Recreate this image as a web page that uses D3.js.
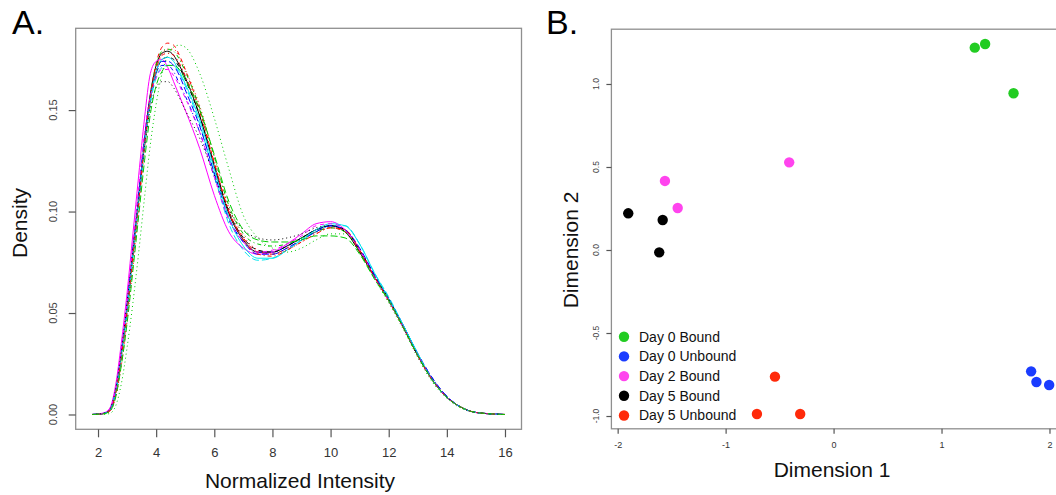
<!DOCTYPE html>
<html>
<head>
<meta charset="utf-8">
<script src="https://cdn.jsdelivr.net/npm/d3@7"></script>
<style>
  html, body { margin: 0; padding: 0; background: #fff; }
  svg { display: block; font-family: "Liberation Sans", Arial, sans-serif; }
</style>
</head>
<body>
<svg id="chart" width="1056" height="495"></svg>
<script>
// ---------------- Panel A data: density curves ----------------
const intensityGrid = [1.8, 2.2, 2.4, 2.6, 2.8, 3.0, 3.2, 3.4, 3.6, 3.8, 4.0, 4.2, 4.4, 4.6, 4.8, 5.0,
  5.5, 6.0, 6.5, 7.0, 7.5, 8.0, 8.5, 9.0, 9.5, 10.0, 10.5, 11.0, 11.5, 12.0, 12.5, 13.0, 13.5, 14.0, 14.5, 15.0, 16.0];

const density01 = [0,0.0005,0.002,0.011,0.030,0.053,0.080,0.107,0.135,0.158,0.172,0.178,0.179,0.177,0.172,0.166,0.147,0.122,0.099,0.086,0.080,0.080,0.083,0.087,0.091,0.093,0.090,0.080,0.068,0.057,0.043,0.029,0.017,0.0085,0.0035,0.001,0];
const density02 = [0,0.0004,0.0015,0.009,0.026,0.049,0.076,0.104,0.133,0.157,0.173,0.181,0.183,0.182,0.177,0.170,0.150,0.124,0.100,0.087,0.080,0.079,0.082,0.086,0.090,0.092,0.090,0.080,0.068,0.056,0.043,0.029,0.017,0.0085,0.0035,0.001,0];
const density03 = [0,0,0.0005,0.004,0.015,0.033,0.055,0.080,0.107,0.133,0.153,0.168,0.177,0.181,0.182,0.181,0.168,0.146,0.121,0.098,0.087,0.082,0.080,0.082,0.086,0.089,0.089,0.080,0.067,0.055,0.042,0.028,0.016,0.008,0.003,0.001,0];
const density04 = [0,0.0006,0.0025,0.012,0.031,0.055,0.082,0.110,0.137,0.157,0.168,0.172,0.172,0.169,0.163,0.157,0.139,0.117,0.096,0.085,0.080,0.080,0.083,0.087,0.091,0.093,0.091,0.081,0.069,0.057,0.044,0.030,0.018,0.009,0.0035,0.001,0];
const density05 = [0,0.0005,0.002,0.010,0.028,0.050,0.077,0.104,0.131,0.153,0.166,0.171,0.172,0.172,0.168,0.162,0.143,0.118,0.094,0.081,0.076,0.077,0.081,0.086,0.090,0.093,0.093,0.084,0.070,0.058,0.044,0.030,0.017,0.0085,0.0035,0.001,0];
const density06 = [0,0.0008,0.003,0.014,0.035,0.060,0.089,0.118,0.146,0.168,0.174,0.175,0.171,0.164,0.157,0.150,0.131,0.108,0.090,0.082,0.079,0.080,0.084,0.089,0.094,0.095,0.091,0.081,0.068,0.056,0.043,0.029,0.017,0.0085,0.0035,0.001,0];
const density07 = [0,0.0005,0.002,0.011,0.029,0.052,0.079,0.106,0.133,0.155,0.168,0.175,0.176,0.175,0.171,0.165,0.147,0.123,0.100,0.087,0.081,0.080,0.083,0.087,0.091,0.093,0.091,0.081,0.069,0.057,0.043,0.029,0.017,0.0085,0.0035,0.001,0];
const density08 = [0,0.0004,0.0015,0.008,0.024,0.046,0.073,0.101,0.130,0.154,0.170,0.178,0.180,0.180,0.176,0.170,0.152,0.127,0.102,0.088,0.081,0.079,0.081,0.085,0.089,0.092,0.091,0.081,0.068,0.056,0.043,0.029,0.017,0.0085,0.0035,0.001,0];
const density09 = [0,0.0005,0.002,0.010,0.028,0.051,0.078,0.106,0.134,0.157,0.172,0.179,0.180,0.179,0.175,0.169,0.151,0.127,0.103,0.089,0.084,0.083,0.084,0.087,0.090,0.092,0.090,0.080,0.068,0.056,0.043,0.029,0.017,0.0085,0.0035,0.001,0];
const density10 = [0,0.0006,0.0022,0.011,0.030,0.054,0.081,0.108,0.135,0.156,0.169,0.174,0.174,0.172,0.167,0.160,0.142,0.119,0.097,0.085,0.079,0.079,0.082,0.086,0.090,0.093,0.091,0.082,0.069,0.057,0.044,0.030,0.018,0.009,0.0035,0.001,0];
const density11 = [0,0.0005,0.002,0.011,0.029,0.052,0.079,0.106,0.133,0.155,0.169,0.175,0.176,0.174,0.169,0.163,0.145,0.121,0.097,0.083,0.077,0.077,0.081,0.086,0.091,0.094,0.093,0.084,0.070,0.057,0.044,0.030,0.017,0.0085,0.0035,0.001,0];
const density12 = [0,0.0006,0.0025,0.012,0.032,0.056,0.084,0.112,0.139,0.157,0.166,0.170,0.170,0.167,0.162,0.156,0.139,0.117,0.096,0.085,0.080,0.081,0.084,0.088,0.093,0.094,0.091,0.081,0.068,0.056,0.043,0.029,0.017,0.0085,0.0035,0.001,0];
const density13 = [0,0.0006,0.0025,0.012,0.031,0.055,0.081,0.107,0.132,0.151,0.161,0.164,0.164,0.161,0.156,0.150,0.136,0.118,0.101,0.091,0.087,0.086,0.087,0.089,0.092,0.093,0.090,0.080,0.068,0.057,0.043,0.029,0.017,0.0085,0.0035,0.001,0];
const density14 = [0,0.0005,0.002,0.010,0.028,0.051,0.078,0.105,0.133,0.156,0.170,0.177,0.178,0.177,0.173,0.167,0.149,0.124,0.100,0.086,0.079,0.078,0.081,0.085,0.089,0.092,0.091,0.081,0.068,0.056,0.043,0.029,0.017,0.0085,0.0035,0.001,0];
const density15 = [0,0.0004,0.0015,0.008,0.024,0.045,0.071,0.098,0.125,0.148,0.162,0.169,0.172,0.172,0.170,0.165,0.150,0.128,0.105,0.091,0.086,0.085,0.085,0.086,0.088,0.088,0.087,0.079,0.067,0.056,0.043,0.029,0.017,0.0085,0.0035,0.001,0];

const densitySeries = [density01, density02, density03, density04, density05, density06, density07, density08,
  density09, density10, density11, density12, density13, density14, density15];

const curveColors = ["#000000", "#ff0000", "#00cd00", "#0000ff", "#00e5ee", "#ff00ff"];
const curveDashes = [null, "4,4", "1,3", "1,3,4,3", "7,3"];

const aXTicks = [2, 4, 6, 8, 10, 12, 14, 16];
const aYTicks = [0.00, 0.05, 0.10, 0.15];
const aYTickLabels = ["0.00", "0.05", "0.10", "0.15"];

// ---------------- Panel B data: MDS plot ----------------
const groups = ["Day 0 Bound", "Day 0 Unbound", "Day 2 Bound", "Day 5 Bound", "Day 5 Unbound"];
const groupColors = ["#22cc22", "#1a3cff", "#ff44ee", "#000000", "#ff2a0a"];
const sampleGroup = [0, 0, 0, 1, 1, 1, 2, 2, 2, 3, 3, 3, 4, 4, 4];
const dim1 = [1.308, 1.404, 1.667, 1.830, 1.879, 1.997, -0.411, -1.562, -1.444, -1.902, -1.583, -1.615, -0.543, -0.710, -0.309];
const dim2 = [1.219, 1.241, 0.944, -0.731, -0.795, -0.813, 0.528, 0.416, 0.253, 0.221, 0.181, -0.014, -0.763, -0.988, -0.988];

const bXTicks = [-2, -1, 0, 1, 2];
const bYTicks = [-1.0, -0.5, 0.0, 0.5, 1.0];
const bYTickLabels = ["-1.0", "-0.5", "0.0", "0.5", "1.0"];

// ---------------- Drawing ----------------
const svg = d3.select("#chart");
const boxColor = "#8f8f8f";
const tickColor = "#555";

// ===== Panel A =====
const ax = d3.scaleLinear().domain([1.232, 16.568]).range([75.7, 521.5]);
const ay = d3.scaleLinear().domain([-0.0073, 0.1903]).range([429.3, 28.3]);

const gA = svg.append("g");

const line = d3.line()
  .x((d, i) => ax(intensityGrid[i]))
  .y(d => ay(d))
  .curve(d3.curveMonotoneX);

gA.append("g").selectAll("path")
  .data(densitySeries)
  .join("path")
  .attr("d", d => line(d))
  .attr("fill", "none")
  .attr("stroke", (d, i) => curveColors[i % curveColors.length])
  .attr("stroke-width", 1)
  .attr("stroke-dasharray", (d, i) => curveDashes[i % curveDashes.length]);

// box
gA.append("rect")
  .attr("x", ax.range()[0]).attr("y", ay.range()[1])
  .attr("width", ax.range()[1] - ax.range()[0])
  .attr("height", ay.range()[0] - ay.range()[1])
  .attr("fill", "none").attr("stroke", boxColor).attr("stroke-width", 1.3);

// x axis
const axA = gA.append("g").attr("transform", `translate(0,${ay.range()[0]})`)
  .call(d3.axisBottom(ax).tickValues(aXTicks).tickSize(8).tickPadding(10).tickFormat(d3.format("d")));
axA.select(".domain").remove();
axA.selectAll(".tick line").attr("stroke", tickColor).attr("stroke-width", 1.2);
axA.selectAll(".tick text").attr("fill", "#333").style("font-size", "13px")
  .style("font-family", "'Liberation Sans', Arial, sans-serif");

// y axis
const ayA = gA.append("g").attr("transform", `translate(${ax.range()[0]},0)`)
  .call(d3.axisLeft(ay).tickValues(aYTicks).tickSize(7).tickFormat(""));
ayA.select(".domain").remove();
ayA.selectAll(".tick line").attr("stroke", tickColor).attr("stroke-width", 1.2);
gA.append("g").selectAll("text")
  .data(aYTicks)
  .join("text")
  .attr("transform", d => `translate(57,${ay(d)}) rotate(-90)`)
  .attr("text-anchor", "middle")
  .attr("fill", "#444")
  .style("font-size", "11px")
  .text((d, i) => aYTickLabels[i]);

// axis titles
gA.append("text").attr("x", 300).attr("y", 488).attr("text-anchor", "middle")
  .style("font-size", "21px").attr("fill", "#111").text("Normalized Intensity");
gA.append("text").attr("transform", "translate(27,223) rotate(-90)").attr("text-anchor", "middle")
  .style("font-size", "21px").attr("fill", "#111").text("Density");
gA.append("text").attr("x", 12).attr("y", 34).style("font-size", "34px").attr("fill", "#000").text("A.");

// ===== Panel B =====
const bx = d3.scaleLinear().domain([-2.058, 2.153]).range([611.4, 1066]);
const by = d3.scaleLinear().domain([-1.077, 1.33]).range([428.8, 29.2]);
const gB = svg.append("g");

gB.append("rect")
  .attr("x", bx.range()[0]).attr("y", by.range()[1])
  .attr("width", bx.range()[1] - bx.range()[0])
  .attr("height", by.range()[0] - by.range()[1])
  .attr("fill", "none").attr("stroke", boxColor).attr("stroke-width", 1.3);

const bxA = gB.append("g").attr("transform", `translate(0,${by.range()[0]})`)
  .call(d3.axisBottom(bx).tickValues(bXTicks).tickSize(5).tickPadding(8).tickFormat(d3.format("d")));
bxA.select(".domain").remove();
bxA.selectAll(".tick line").attr("stroke", tickColor).attr("stroke-width", 1.2);
bxA.selectAll(".tick text").attr("fill", "#333").style("font-size", "9px")
  .style("font-family", "'Liberation Sans', Arial, sans-serif")
  .text(d => d < 0 ? "-" + Math.abs(d) : String(d));

const byA = gB.append("g").attr("transform", `translate(${bx.range()[0]},0)`)
  .call(d3.axisLeft(by).tickValues(bYTicks).tickSize(5).tickFormat(""));
byA.select(".domain").remove();
byA.selectAll(".tick line").attr("stroke", tickColor).attr("stroke-width", 1.2);
gB.append("g").selectAll("text")
  .data(bYTicks)
  .join("text")
  .attr("transform", d => `translate(599,${by(d)}) rotate(-90)`)
  .attr("text-anchor", "middle")
  .attr("fill", "#444")
  .style("font-size", "8.5px")
  .text((d, i) => bYTickLabels[i]);

gB.append("g").selectAll("circle")
  .data(dim1)
  .join("circle")
  .attr("cx", d => bx(d))
  .attr("cy", (d, i) => by(dim2[i]))
  .attr("r", 5.2)
  .attr("fill", (d, i) => groupColors[sampleGroup[i]]);

// legend
const legend = gB.append("g");
groups.forEach((g, i) => {
  const yy = 336.7 + i * 19.7;
  legend.append("circle").attr("cx", 624).attr("cy", yy).attr("r", 5.2).attr("fill", groupColors[i]);
  legend.append("text").attr("x", 639).attr("y", yy).attr("dy", "0.35em")
    .style("font-size", "14px").attr("fill", "#111").text(g);
});

gB.append("text").attr("x", 832).attr("y", 477).attr("text-anchor", "middle")
  .style("font-size", "21px").attr("fill", "#111").text("Dimension 1");
gB.append("text").attr("transform", "translate(578,250) rotate(-90)").attr("text-anchor", "middle")
  .style("font-size", "21px").attr("fill", "#111").text("Dimension 2");
gB.append("text").attr("x", 546).attr("y", 34).style("font-size", "34px").attr("fill", "#000").text("B.");
</script>
</body>
</html>
